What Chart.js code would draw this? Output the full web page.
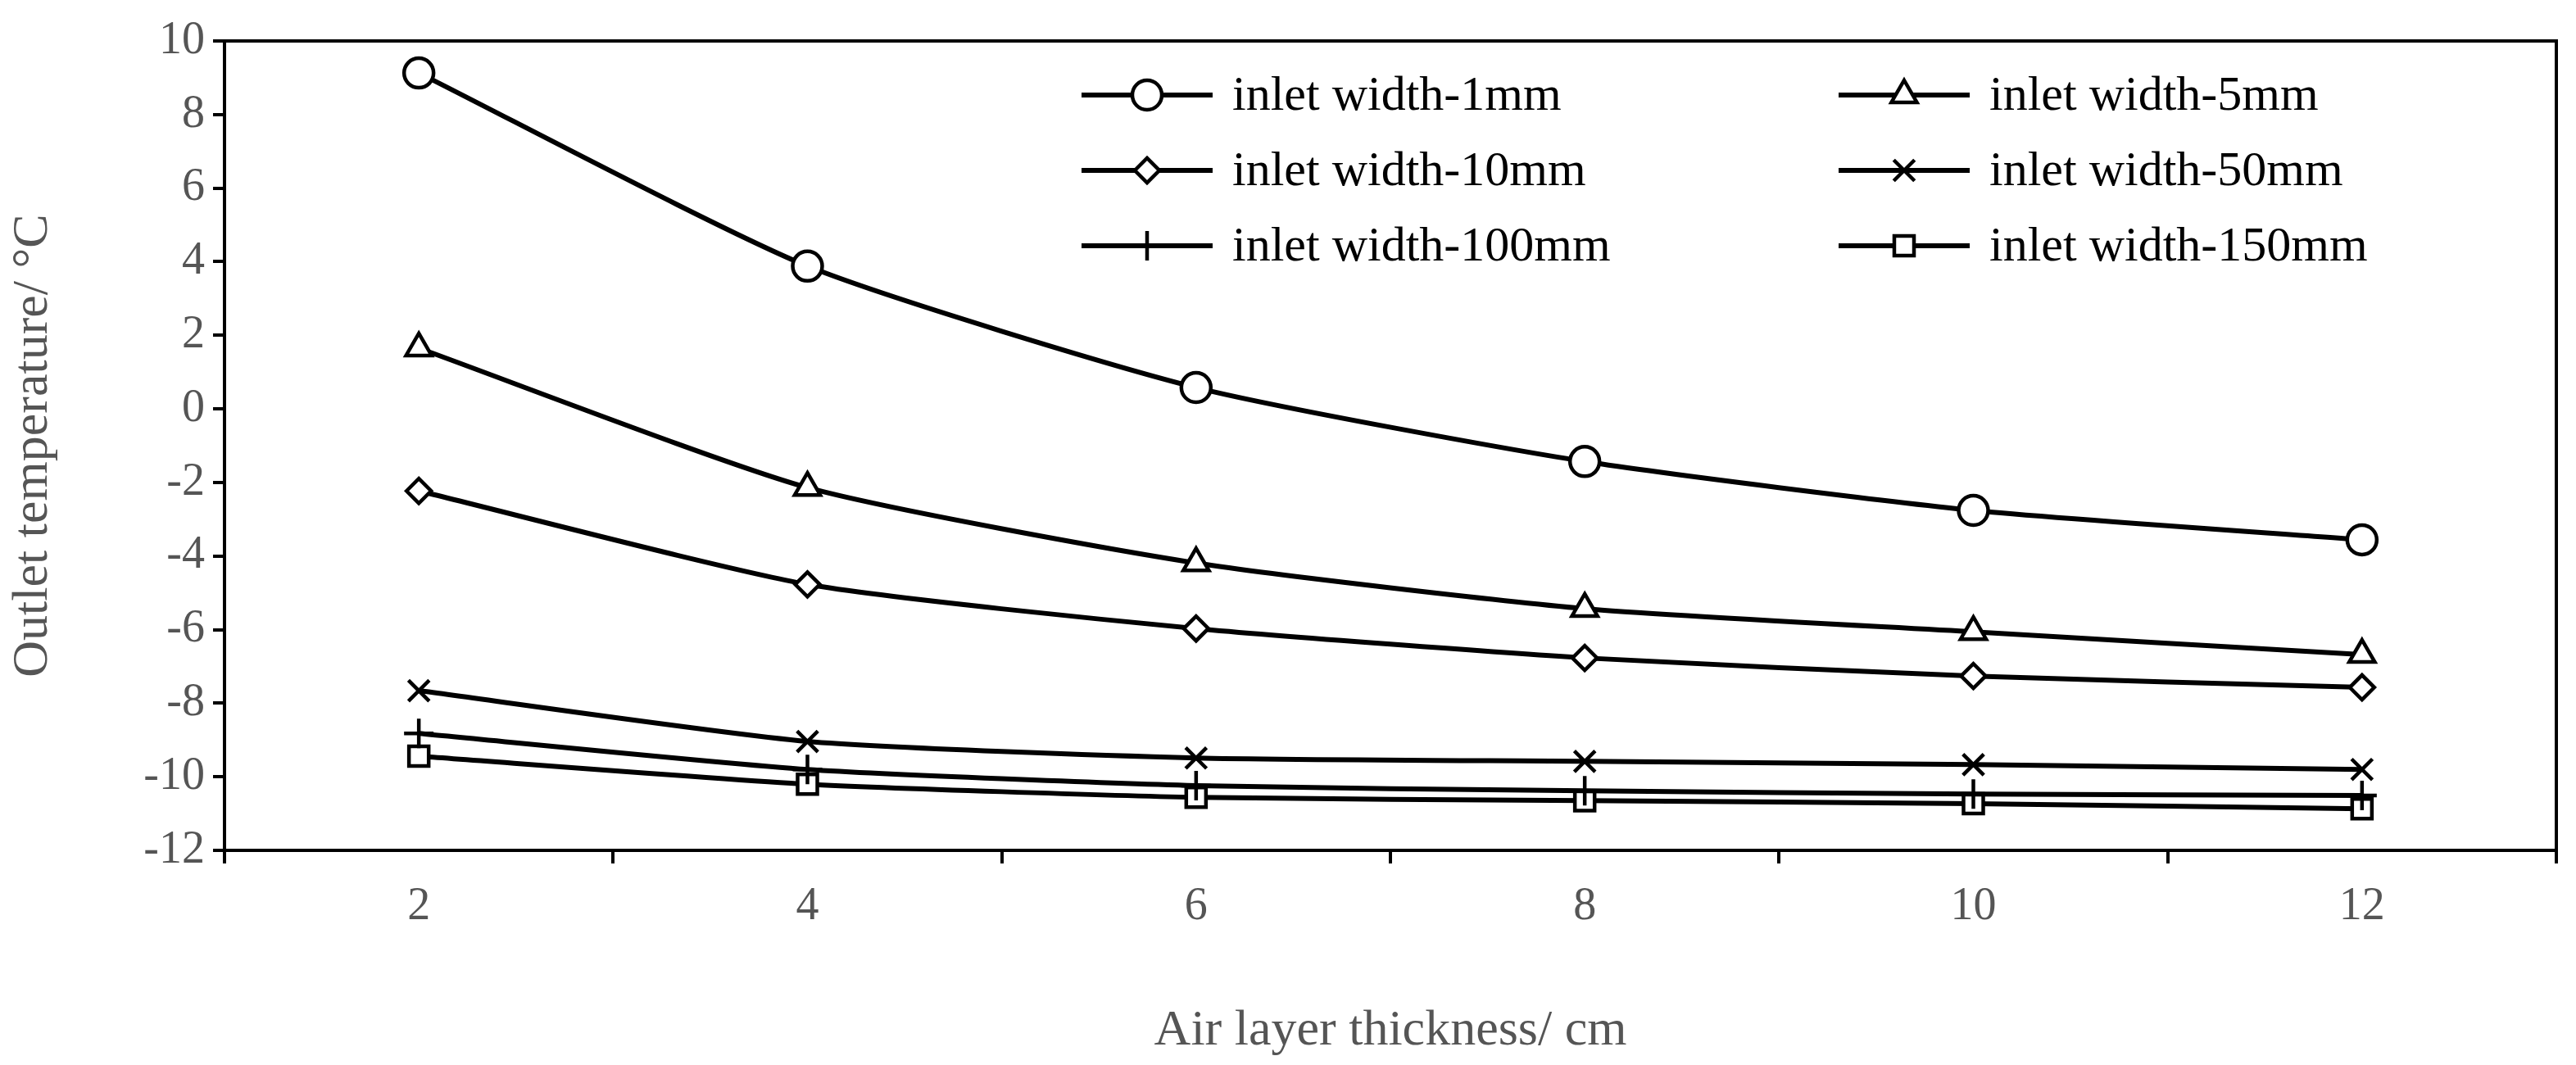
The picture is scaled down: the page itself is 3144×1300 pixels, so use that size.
<!DOCTYPE html>
<html><head><meta charset="utf-8">
<script src="https://cdn.jsdelivr.net/npm/chart.js@4/dist/chart.umd.min.js"></script>
<style>html,body{margin:0;padding:0;background:#fff}</style>
</head><body><canvas id="c" width="3144" height="1300" style="width:3144px;height:1300px"></canvas>
<script>
const categories = ['2','4','6','8','10','12'];
const w1 = [9.13, 3.88, 0.58, -1.43, -2.76, -3.56];
const w5 = [1.65, -2.14, -4.19, -5.43, -6.06, -6.68];
const w10 = [-2.23, -4.77, -5.97, -6.77, -7.26, -7.57];
const w50 = [-7.66, -9.04, -9.49, -9.58, -9.67, -9.80];
const w100 = [-8.82, -9.80, -10.24, -10.38, -10.47, -10.51];
const w150 = [-9.44, -10.20, -10.56, -10.65, -10.73, -10.87];
const seriesNames = ['inlet width-1mm','inlet width-5mm','inlet width-10mm','inlet width-50mm','inlet width-100mm','inlet width-150mm'];
const styles = ['circle','triangle','rectRot','crossRot','cross','rect'];
const radii = [18,18,15,18,18,17];
const FONT = '"Liberation Serif", "Times New Roman", serif';
const all=[w1,w5,w10,w50,w100,w150];
const datasets = all.map((d,i)=>({label:seriesNames[i],data:d,borderColor:'#000',borderWidth:6,
  pointStyle:styles[i],pointRadius:radii[i],pointBackgroundColor:'#fff',pointBorderColor:'#000',pointBorderWidth:4.5,tension:0.2}));
const legendPlugin={id:'lg',afterDraw(ch){
  const c=ch.ctx; c.save();
  const cols=[1320,2244], rows=[116,208,300];
  datasets.forEach((ds,i)=>{
    const x=cols[i%2], y=rows[Math.floor(i/2)];
    c.strokeStyle='#000'; c.lineWidth=6;
    c.beginPath(); c.moveTo(x,y); c.lineTo(x+160,y); c.stroke();
    c.fillStyle='#fff'; c.lineWidth=4.5;
    Chart.helpers.drawPoint(c,{pointStyle:ds.pointStyle,radius:ds.pointRadius,borderWidth:4.5},x+80,y);
    c.fillStyle='#000'; c.font='60px '+FONT; c.textBaseline='middle'; c.textAlign='left';
    c.fillText(ds.label,x+184,y+2);
  });
  c.restore();
}};
const boxPlugin={id:'box',afterDatasetsDraw(ch){const a=ch.chartArea,c=ch.ctx;c.save();c.strokeStyle='#000';c.lineWidth=4;c.beginPath();c.moveTo(a.left,a.top);c.lineTo(a.right,a.top);c.lineTo(a.right,a.bottom);c.stroke();c.restore();}};
new Chart(document.getElementById('c'),{type:'line',data:{labels:categories,datasets},
 plugins:[legendPlugin,boxPlugin],
 options:{responsive:false,animation:false,devicePixelRatio:1,
  layout:{padding:{left:0,top:50,right:24,bottom:0}},
  plugins:{legend:{display:false},tooltip:{enabled:false}},
  scales:{
   x:{offset:true,grid:{offset:true,drawOnChartArea:false,color:'#000',lineWidth:4,tickLength:16},
      border:{color:'#000',width:4},
      ticks:{font:{family:FONT,size:56},color:'#555',padding:20},
      title:{display:true,text:'Air layer thickness/ cm',font:{family:FONT,size:62},color:'#555',padding:{top:40}},
      afterFit(s){s.height=262;}},
   y:{min:-12,max:10,grid:{drawOnChartArea:false,color:'#000',lineWidth:4,tickLength:14},
      border:{color:'#000',width:4},
      ticks:{stepSize:2,font:{family:FONT,size:56},color:'#555',padding:10},
      title:{display:true,text:'Outlet temperature/ °C',font:{family:FONT,size:62},color:'#555',padding:{bottom:10}},
      afterFit(s){s.width=274;}}
  }}
});
</script></body></html>
